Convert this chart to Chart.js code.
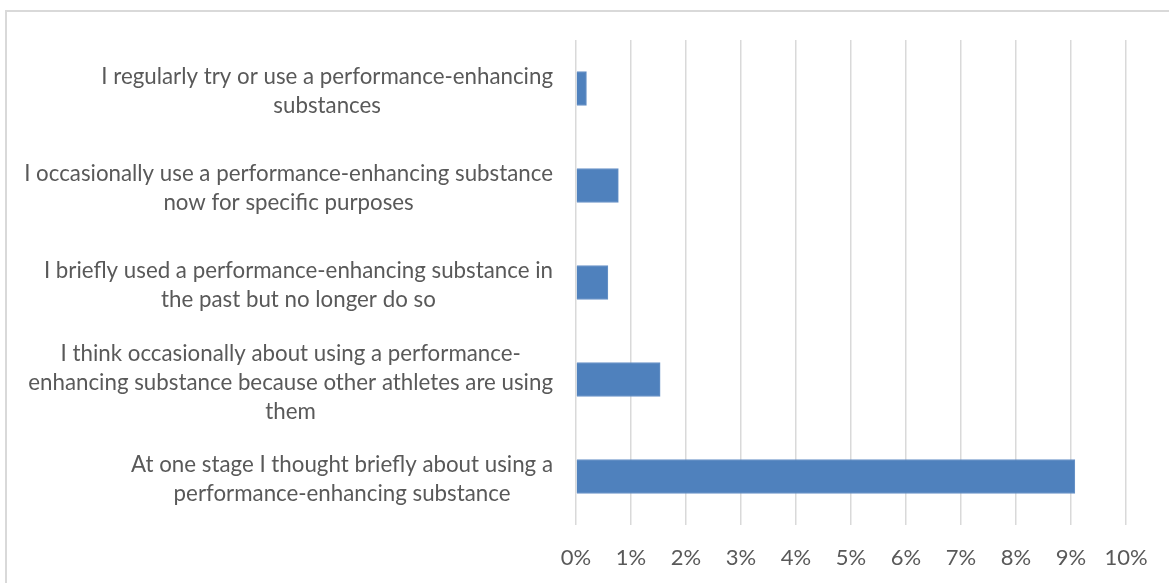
<!DOCTYPE html>
<html>
<head>
<meta charset="utf-8">
<script src="https://cdn.jsdelivr.net/npm/chart.js@4.4.1/dist/chart.umd.min.js"></script>
<style>
    body { margin: 0; background: #fff; overflow: hidden; }
    #frame { position: absolute; left: 5px; top: 10px; width: 1170px; height: 580px; border: 2px solid #d9d9d9; }
    #chart { position: absolute; left: 0; top: 0; }
</style>
</head>
<body>
<div id="frame"></div>
<canvas id="chart" width="1169" height="583"></canvas>
<script>
// answers, top to bottom, each split into the lines they wrap onto
var answers = [
    ["I regularly try or use a performance-enhancing", "substances"],
    ["I occasionally use a performance-enhancing substance", "now for specific purposes"],
    ["I briefly used a performance-enhancing substance in", "the past but no longer do so"],
    ["I think occasionally about using a performance-", "enhancing substance because other athletes are using", "them"],
    ["At one stage I thought briefly about using a", "performance-enhancing substance"]
]
var shares = [0.19, 0.77, 0.58, 1.53, 9.07]
var ticksPct = [0, 1, 2, 3, 4, 5, 6, 7, 8, 9, 10]

var labelFont = "22.3px Lato"
var textColor = "#595959"

// category labels: each block right-aligned to the axis, lines centred inside it
var answerLabels = {
    id: "answerLabels",
    afterDraw: function (chart) {
        let ctx = chart.ctx
        let y = chart.scales.y
        let right = 553
        let lh = 29
        ctx.save()
        ctx.font = labelFont
        ctx.fillStyle = textColor
        ctx.textAlign = "center"
        ctx.textBaseline = "middle"
        answers.forEach(function (lines, i) {
            let w = 0
            lines.forEach(function (l) { w = Math.max(w, ctx.measureText(l).width) })
            let cy = y.getPixelForValue(i)
            let top = cy - lines.length * lh / 2 + lh / 2 + 3
            lines.forEach(function (l, k) {
                ctx.fillText(l, right - w / 2, top + k * lh)
            })
        })
        ctx.restore()
    }
}

new Chart(document.getElementById("chart"), {
    type: "bar",
    data: {
        labels: answers.map(function (a) { return a.join(" ") }),
        datasets: [{
            data: shares,
            backgroundColor: "#4f81bd",
            borderColor: "#6a94c8",
            borderWidth: 1,
            barThickness: 34
        }]
    },
    options: {
        indexAxis: "y",
        responsive: false,
        animation: false,
        devicePixelRatio: 1,
        layout: { padding: { top: 40, right: 43, left: 0, bottom: 0 } },
        plugins: { legend: { display: false }, tooltip: { enabled: false } },
        scales: {
            x: {
                min: 0,
                max: 10,
                afterBuildTicks: function (s) { s.ticks = ticksPct.map(function (v) { return { value: v } }) },
                afterFit: function (s) { s.height = 58 },
                ticks: {
                    padding: 20,
                    color: textColor,
                    font: { family: "Lato", size: 22 },
                    callback: function (v) { return v + "%" }
                },
                grid: { color: "#d9d9d9", lineWidth: 1.5, drawTicks: false },
                border: { display: false }
            },
            y: {
                afterFit: function (s) { s.width = 576 },
                ticks: { display: false },
                grid: { display: false },
                border: { display: false }
            }
        }
    },
    plugins: [answerLabels]
})
</script>
</body>
</html>
